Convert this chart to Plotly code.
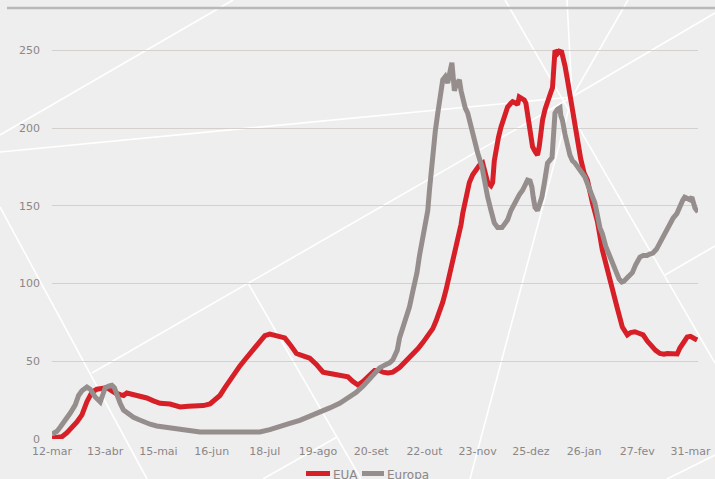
import pandas as pd
import plotly.graph_objects as go

# Day offsets from 12 Mar 2020 and the matching values for each region
START = "2020-03-12"

eua_days = [0, 4, 6, 9, 12, 15, 18, 21, 24, 27, 30, 33, 36, 38, 41, 43, 45, 48, 53, 57,
            61, 65, 71, 77, 82, 87, 91, 95, 98, 101, 104, 107, 110, 113, 116, 119, 122, 125,
            128, 131, 134, 137, 140, 143, 147, 151, 155, 159, 163, 168, 172, 175, 178, 181,
            184, 187, 190, 194, 197, 199, 202, 205, 209, 213, 217, 220, 223, 226, 229, 231,
            233, 235, 237, 239, 241, 242.5, 244, 246, 247, 249, 251, 253, 255, 257, 259,
            260.5, 262, 264, 265, 266, 267, 268.5, 270, 272, 274, 276, 277, 279, 280, 281,
            282.5, 284, 285, 286, 287.5, 289, 290.5, 292, 293, 294, 295, 296.5, 298, 300,
            301, 302, 302.5, 304, 305, 306.5, 307, 308.5, 310, 311.5, 313, 314.5, 316, 318,
            320, 322, 325, 328, 331, 334, 337, 340, 343, 345, 346, 348, 350.5, 353, 355.5,
            358, 361, 363, 365.6, 368, 370, 373, 376, 377.6, 380, 382, 384, 385, 386.5, 388]
eua_values = [0.6, 0.8, 1.5, 4, 7, 11, 15.5, 24, 30, 32, 32.5, 33, 31, 29.6, 28.5, 28, 29.6,
              29, 27.6, 26.4, 24.5, 23, 22.5, 20.6, 21, 21, 21.5, 22.5, 25, 28, 33, 38, 43,
              47, 51, 55, 59.5, 63.7, 66.5, 67.5, 66.5, 65.6, 65, 61, 55, 53.5, 52, 48, 43,
              42, 41.5, 41, 40, 37, 34.7, 37, 40, 44, 44, 43, 42.5, 43, 46, 50, 54, 58, 62,
              66, 71, 76, 81, 88, 96, 105, 113, 120, 126, 138, 145, 156, 165, 170, 173, 176,
              177.5, 172, 165, 163, 165, 179, 186, 194, 200.6, 208, 213.5, 216, 217, 216, 215,
              220, 219, 218, 216, 210, 198, 188, 185, 182.6, 188, 197, 205, 212, 218, 223,
              226, 240, 250, 248, 249.5, 249, 247, 240, 231, 221, 211.6, 200, 190, 180, 171,
              166.5, 152, 140, 121.5, 108, 95.8, 84, 72, 68, 67, 68.5, 69, 68, 67, 63, 59,
              57, 55, 54.5, 55, 55, 54.7, 58.5, 62, 65.6, 66, 65, 64.5, 63.7]

europa_days = [0, 3, 5, 8, 11, 14, 16, 18, 21, 23, 24, 26, 29, 30.5, 32, 34, 36, 37.5, 39,
               41, 43, 46, 49, 52, 55, 59, 63, 68, 73, 79, 85, 89, 95, 100, 105, 109, 113,
               116, 120, 125, 131, 137, 143, 149, 155, 161, 167, 173, 178, 183, 187, 191,
               194, 197, 200, 203, 205, 206, 207.6, 209, 211, 213, 215, 217, 219.5, 221, 223,
               225, 226, 227, 228, 229, 230.5, 232, 233.5, 235, 236.5, 238, 239.5, 240.5,
               241, 242, 243, 245, 246, 247, 248.5, 250, 252, 254, 256, 258.6, 260, 262,
               264, 266, 268, 270.6, 272, 274, 276, 278, 279.6, 281, 283, 285, 286, 287.5,
               288.6, 289.5, 290.5, 292, 293, 294.6, 296, 298, 300.7, 301.5, 302.5, 304,
               305.5, 306, 307, 308.5, 310, 311.5, 313, 314.5, 317.5, 320.5, 323.5, 326.5,
               329.5, 331, 333, 335.5, 338, 339.7, 341, 342.7, 344, 345.8, 347.5, 349, 351,
               353.6, 355.5, 357.8, 359.5, 361.4, 363.5, 365.6, 368.5, 371.6, 373.5, 375.8,
               377.5, 379.4, 380.5, 382.4, 383.5, 384.8, 385.8, 386.7, 388.5]
europa_values = [3.2, 5, 7.7, 12, 16.7, 22, 28, 31, 33.4, 32, 30, 27, 23.8, 28, 33, 34, 34.5,
                 33, 28.3, 23, 18.6, 16, 14, 12.5, 11, 9.5, 8.4, 7.5, 7, 5.5, 4.5, 4.5, 4.5,
                 4.5, 4.5, 4.5, 4, 3.9, 4, 4.5, 6, 7.7, 10, 12, 14.5, 16.7, 20, 23, 26.5, 30,
                 34, 39, 42.5, 45.7, 47.5, 49, 51, 53, 57, 65, 72, 78, 85, 95, 107, 118, 130,
                 140, 147, 160, 172, 186, 198, 209.6, 220, 231, 233, 229, 237, 242, 236, 224,
                 228, 231, 224, 218, 213, 209.6, 200, 192, 184, 175, 166, 155.6, 147, 139, 136,
                 136, 138, 141, 147, 151, 155.6, 157, 160, 164, 166.5, 166, 162, 155, 149, 147,
                 150, 155.6, 164, 177.5, 181, 195, 209.6, 212, 213, 208, 205, 196, 188, 182.6,
                 179, 177.5, 173, 168.5, 160, 151.8, 136, 132, 124, 117, 110, 107, 103, 101,
                 101.5, 103.5, 105, 107, 112, 117, 118, 118, 119, 119.6, 122, 126, 133, 139,
                 142, 145, 150, 153.7, 155.5, 155, 154, 155.6, 152, 148.5, 146]

tick_dates = ["2020-03-12", "2020-04-13", "2020-05-15", "2020-06-16", "2020-07-18",
              "2020-08-19", "2020-09-20", "2020-10-22", "2020-11-23", "2020-12-25",
              "2021-01-26", "2021-02-27", "2021-03-31"]
tick_labels = ["12-mar", "13-abr", "15-mai", "16-jun", "18-jul", "19-ago", "20-set",
               "22-out", "23-nov", "25-dez", "26-jan", "27-fev", "31-mar"]
y_ticks = [0, 50, 100, 150, 200, 250]
series_names = ["EUA", "Europa"]

RED = "#d71f27"
GREY = "#958e8c"
TEXT = "#8c8686"
FONT = "DejaVu Sans"

start = pd.Timestamp(START)


def to_dates(days):
    return start + pd.to_timedelta(days, unit="D")


fig = go.Figure()
fig.add_trace(go.Scatter(x=to_dates(eua_days), y=eua_values, name=series_names[0],
                         mode="lines", line=dict(color=RED, width=5)))
fig.add_trace(go.Scatter(x=to_dates(europa_days), y=europa_values, name=series_names[1],
                         mode="lines", line=dict(color=GREY, width=5)))

# Page geometry (pixels) used to place the background strokes and the key
W, H = 715, 479
L, R, T, B = 52, 17, 41, 40
PW, PH = W - L - R, H - T - B


def px(x, y):
    return (x - L) / PW, (H - B - y) / PH


def paper_line(x0, y0, x1, y1, color, width, layer="below"):
    a0, b0 = px(x0, y0)
    a1, b1 = px(x1, y1)
    return dict(type="line", xref="paper", yref="paper", x0=a0, y0=b0, x1=a1, y1=b1,
                line=dict(color=color, width=width), layer=layer)


strokes = [
    (0, 135, 233, 0), (0, 152, 572, 97), (572, 97, 715, 13), (505, 0, 715, 363),
    (567, 0, 572, 97), (628, 0, 572, 97), (572, 97, 92, 373), (572, 97, 470, 479),
    (0, 207, 147, 479), (248, 283, 361, 479), (263, 479, 337, 437), (665, 275, 715, 246),
    (667, 479, 715, 455),
]
shapes = [paper_line(*s, color="white", width=1.6) for s in strokes]
# thin rule across the top of the panel
shapes.append(paper_line(7, 8, 715, 8, color="#b8b8b8", width=2.5))

# key below the axis: short coloured strokes followed by the series names
annotations = []
for name, color, (k0, k1) in zip(series_names, [RED, GREY], [(306, 330), (362, 384)]):
    shapes.append(paper_line(k0, 473.5, k1, 473.5, color=color, width=5, layer="above"))
    ax, ay = px(k1 + 1, 474.5)
    annotations.append(dict(text=name, xref="paper", yref="paper", x=ax, y=ay,
                            xanchor="left", yanchor="middle", showarrow=False,
                            font=dict(family=FONT, size=12, color=TEXT)))

fig.update_layout(
    width=W, height=H,
    margin=dict(l=L, r=R, t=T, b=B, autoexpand=False),
    paper_bgcolor="#eeeeee",
    plot_bgcolor="rgba(0,0,0,0)",
    font=dict(family=FONT, size=11, color=TEXT),
    shapes=shapes,
    annotations=annotations,
    showlegend=False,
    xaxis=dict(type="date", range=[to_dates([0])[0], to_dates([388.5])[0]],
               tickvals=tick_dates, ticktext=tick_labels, showgrid=False,
               showline=False, zeroline=False, ticks="", ticklabelstandoff=4,
               tickfont=dict(family=FONT, size=11, color=TEXT)),
    yaxis=dict(range=[0, 256], tickvals=y_ticks, showgrid=True, gridcolor="#d3d0ce",
               gridwidth=1.2, zeroline=False, showline=False, ticks="",
               ticklabelstandoff=11,
               tickfont=dict(family=FONT, size=11, color=TEXT)),
)

fig.write_html("out.html")
